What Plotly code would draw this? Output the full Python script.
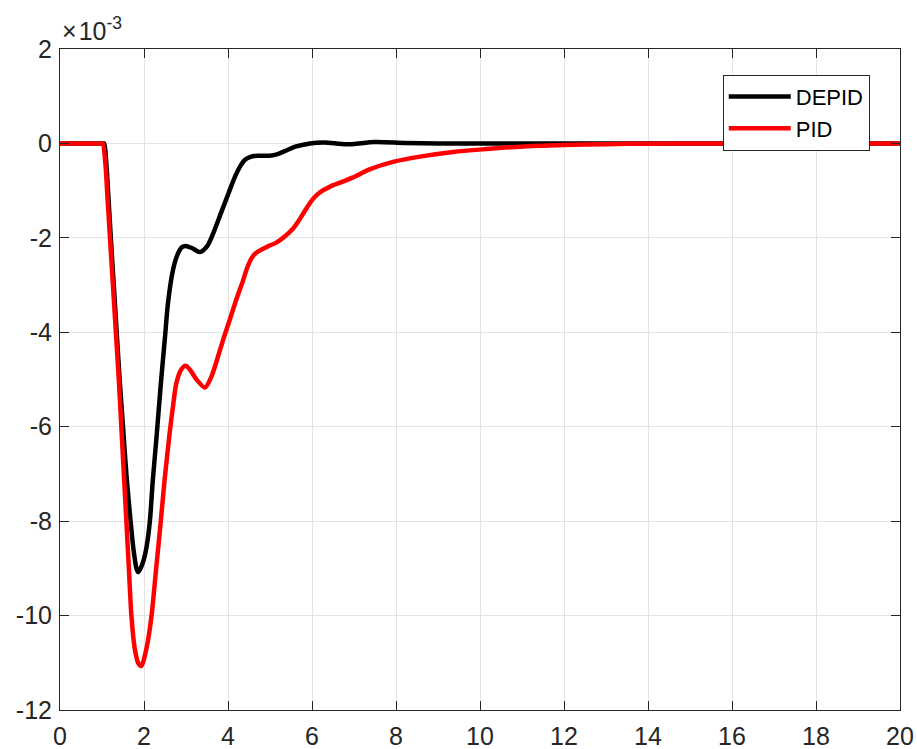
import plotly.graph_objects as go

# ---- data (time in s, values in units of 1e-3) ----
t_depid = [0, 0.5, 1.0, 1.05, 1.1, 1.15, 1.21, 1.28, 1.35, 1.42, 1.5, 1.58, 1.68, 1.75, 1.82, 1.86,
           1.92, 2.0, 2.06, 2.14, 2.21, 2.3, 2.4, 2.5, 2.57, 2.69, 2.8, 2.9, 2.99, 3.15, 3.33,
           3.5, 3.65, 3.8, 3.95, 4.1, 4.2, 4.3, 4.4, 4.52, 4.7, 4.99, 5.2, 5.39, 5.6, 5.95,
           6.3, 6.82, 7.5, 8.2, 9.0, 10, 12, 14, 16, 18, 20]
y_depid = [0, 0, 0, 0, -0.4, -1.1, -2.0, -3.0, -4.0, -5.0, -6.0, -7.0, -8.0, -8.6, -9.0, -9.08,
           -9.0, -8.8, -8.55, -8.0, -7.13, -6.2, -5.1, -4.1, -3.39, -2.68, -2.35, -2.2, -2.17, -2.22, -2.30,
           -2.18, -1.9, -1.55, -1.2, -0.85, -0.64, -0.47, -0.35, -0.29, -0.26, -0.26, -0.22, -0.15, -0.07, 0.0,
           0.02, -0.02, 0.03, 0.01, 0.0, 0, 0, 0, 0, 0, 0]

t_pid = [0, 0.5, 1.0, 1.02, 1.08, 1.13, 1.19, 1.26, 1.33, 1.4, 1.46, 1.52, 1.58, 1.64, 1.7, 1.78,
         1.86, 1.94, 2.02, 2.1, 2.18, 2.29, 2.4, 2.49, 2.61, 2.7, 2.77, 2.88, 2.99, 3.1, 3.25, 3.45,
         3.6, 3.75, 3.88, 4.04, 4.2, 4.36, 4.45, 4.52, 4.62, 4.75, 4.95, 5.15, 5.35, 5.55, 5.71,
         5.85, 6.02, 6.2, 6.42, 6.7, 6.98, 7.37, 7.93, 8.57, 9.36, 10.15, 10.95, 12, 13, 14, 15,
         16, 18, 20]
y_pid = [0, 0, 0, 0, -0.42, -1.13, -2.0, -3.0, -4.0, -5.0, -6.0, -7.0, -8.0, -9.0, -10.0, -10.7,
         -11.0, -11.07, -10.85, -10.5, -10.0, -9.0, -8.0, -7.13, -6.14, -5.5, -5.08, -4.8, -4.71, -4.8, -5.0, -5.17,
         -4.95, -4.55, -4.17, -3.74, -3.3, -2.9, -2.65, -2.5, -2.36, -2.27, -2.18, -2.1, -1.97, -1.8, -1.6,
         -1.4, -1.18, -1.03, -0.92, -0.82, -0.72, -0.55, -0.39, -0.28, -0.18, -0.12, -0.07, -0.035, -0.015, -0.005, 0,
         0, 0, 0]

x_ticks = [0, 2, 4, 6, 8, 10, 12, 14, 16, 18, 20]
y_ticks = [2, 0, -2, -4, -6, -8, -10, -12]
y_tick_text = ["2", "0", "-2", "-4", "-6", "-8", "-10", "-12"]

FONT = "Liberation Sans, Arial, sans-serif"
AXC = "#262626"

fig = go.Figure()
fig.add_trace(go.Scatter(x=t_depid, y=y_depid, mode="lines", name="DEPID",
                         line=dict(color="black", width=4.5, shape="spline", smoothing=0.8)))
fig.add_trace(go.Scatter(x=t_pid, y=y_pid, mode="lines", name="PID",
                         line=dict(color="#ff0000", width=4.5, shape="spline", smoothing=0.8)))

axis_common = dict(showline=True, linecolor=AXC, linewidth=1, mirror="ticks",
                   ticks="inside", ticklen=9, tickcolor=AXC, tickwidth=1, automargin=False,
                   showgrid=True, gridcolor="#e3e3e3", gridwidth=1, zeroline=False,
                   tickfont=dict(family=FONT, size=25, color=AXC))

fig.update_xaxes(range=[0, 20], tickvals=x_ticks, ticktext=[str(v) for v in x_ticks],
                 ticklabelstandoff=4, **axis_common)
fig.update_yaxes(range=[-12, 2], tickvals=y_ticks, ticktext=y_tick_text,
                 ticklabelstandoff=2, **axis_common)

fig.add_annotation(xref="paper", yref="paper", x=0.0, y=1.0, xanchor="left", yanchor="bottom",
                   yshift=2, xshift=0, showarrow=False,
                   text="×\u200a10<sup>-3</sup>", font=dict(family=FONT, size=25, color=AXC))

fig.update_layout(
    width=917, height=749,
    margin=dict(l=60, r=17, t=49, b=39, autoexpand=False),
    paper_bgcolor="white", plot_bgcolor="white",
    showlegend=True,
    legend=dict(x=0.789, y=0.961, xanchor="left", yanchor="top",
                bgcolor="white", bordercolor=AXC, borderwidth=1,
                font=dict(family=FONT, size=22, color="black"),
                tracegroupgap=0, itemwidth=62),
)

fig.write_html("out.html")
